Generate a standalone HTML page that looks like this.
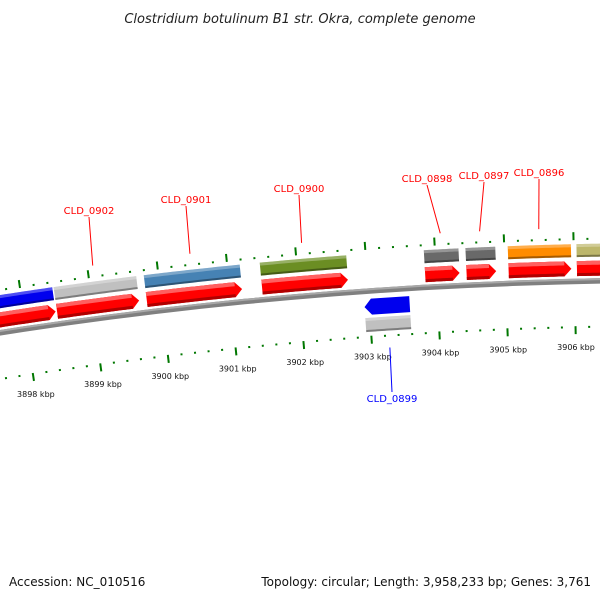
<!DOCTYPE html>
<html><head><meta charset="utf-8">
<style>
html,body{margin:0;padding:0;background:#fff;}
svg{display:block;}
text{font-family:"DejaVu Sans","Liberation Sans",sans-serif;}
</style></head>
<body>
<svg id="chart" width="600" height="600" viewBox="0 0 600 600">
<rect width="600" height="600" fill="#fff"/>
<text x="300" y="23" text-anchor="middle" font-size="13" font-style="italic" fill="#222">Clostridium botulinum B1 str. Okra, complete genome</text>
<g id="ticks"></g>
<g id="backbone"></g>
<g id="genes"></g>
<g id="labels"></g>
<text x="9" y="586" font-size="12" fill="#111">Accession: NC_010516</text>
<text x="591" y="586" text-anchor="end" font-size="12" fill="#111">Topology: circular; Length: 3,958,233 bp; Genes: 3,761</text>
</svg>
<script>
// data
const geneNames = ["CLD_0903","CLD_0902","CLD_0901","CLD_0900","CLD_0899","CLD_0898","CLD_0897","CLD_0896","CLD_0895"];
const geneStarts = [3897.4,3898.48,3899.79,3901.47,3902.93,3903.84,3904.44,3905.05,3906.04];
const geneEnds = [3898.46,3899.68,3901.18,3902.72,3903.59,3904.34,3904.87,3905.96,3906.9];
const geneStrands = [1,1,1,1,-1,1,1,1,1];
const geneColors = ["#0000ee","#c0c0c0","#4682b4","#6b8e23","#c0c0c0","#696969","#696969","#ff8c00","#bdb76b"];
const tickStart = 3896.6;
const tickEnd = 3907.6;
const tickLabels = [3898,3899,3900,3901,3902,3903,3904,3905,3906];
const labelNames = ["CLD_0902","CLD_0901","CLD_0900","CLD_0898","CLD_0897","CLD_0896","CLD_0899"];
const labelX = [89,186,299,427,484,539,392];
const labelY = [211,200,189,179,176,173,399];

// geometry
const CX=676, CY=4658, R=4378, A=0.015726, T0=-0.1490;
function ang(kb){return T0+(kb-3898)*A;}
function pt(kb,r){const t=ang(kb);return [CX+r*Math.sin(t), CY-r*Math.cos(t)];}
function arcPts(k1,k2,r){const n=20,p=[];for(let i=0;i<=n;i++){p.push(pt(k1+(k2-k1)*i/n,r));}return p;}
function poly(pts){return pts.map(p=>p[0].toFixed(2)+","+p[1].toFixed(2)).join(" ");}
const NS="http://www.w3.org/2000/svg";
function mk(tag,attrs,parent){const e=document.createElementNS(NS,tag);for(const k in attrs)e.setAttribute(k,attrs[k]);parent.appendChild(e);return e;}
function band(k1,k2,r1,r2){return arcPts(k1,k2,r2).concat(arcPts(k1,k2,r1).reverse());}
const pxkb=1/69;

// backbone
const bb=document.getElementById('backbone');
let e=mk('polygon',{points:poly(band(3896,3909,R-3,R+2.5)),fill:'#808080'},bb);


e=mk('polygon',{points:poly(band(3896,3909,R+0.5,R+2.5)),fill:'#a8a8a8'},bb);



// ticks
const tg=document.getElementById('ticks');
for(let i=0;Math.round(tickStart*5)+i<=Math.round(tickEnd*5);i++){
  const kb=(Math.round(tickStart*5)+i)/5;
  const major=(Math.round(kb*5)%5===0);
  const len=major?8:2;
  // upper row: extends outward from R+41
  let a=pt(kb,R+41),b=pt(kb,R+41+len);
  let t=mk('line',{x1:a[0],y1:a[1],x2:b[0],y2:b[1],stroke:'#007700','stroke-width':2},tg);
  
  
  // lower row: extends downward from R-45
  a=pt(kb,R-45);b=pt(kb,R-45-len);
  t=mk('line',{x1:a[0],y1:a[1],x2:b[0],y2:b[1],stroke:'#007700','stroke-width':2},tg);
  
  
}
tickLabels.forEach(kb=>{
  const p=pt(kb,R-66);
  const t=mk('text',{x:p[0],y:p[1]+3,'text-anchor':'middle','font-size':8,fill:'#111'},tg);
  t.textContent=kb+' kbp';
  
  
});

// genes
const gg=document.getElementById('genes');
geneNames.forEach((nm,i)=>{
  const s=geneStarts[i],en=geneEnds[i],st=geneStrands[i];
  const g=mk('g',{},gg);
  
  
  const head=7*pxkb;
  let r1,r2,cr1,cr2;
  if(st>0){r1=R+5;r2=R+20;cr1=R+24;cr2=R+37;}else{r1=R-24;r2=R-8;cr1=R-41;cr2=R-27;}
  let pts;
  if(st>0){
    const k=Math.max(s,en-head);
    pts=arcPts(s,k,r2).concat([pt(en,(r1+r2)/2)]).concat(arcPts(s,k,r1).reverse());
  }else{
    const k=Math.min(en,s+head);
    pts=arcPts(k,en,r2).concat(arcPts(k,en,r1).reverse()).concat([pt(s,(r1+r2)/2)]);
  }
  const arrowCol=st>0?'#ff0000':'#0000ee';
  let a=mk('polygon',{points:poly(pts),fill:arrowCol},g);
  
  
  if(st>0){
    const k=Math.max(s,en-head);
    a=mk('polygon',{points:poly(band(s,k,r1,r1+3)),fill:'#b00000'},g);
    
    
    a=mk('polygon',{points:poly(band(s,k,r2-4,r2)),fill:'#ff6060'},g);
    
    
  }
  const c=mk('polygon',{points:poly(band(s,en,cr1,cr2)),fill:geneColors[i]},g);
  
  
  const sh=mk('polygon',{points:poly(band(s,en,cr1,cr1+2)),fill:'rgba(0,0,0,0.35)'},g);
  
  
  const hl=mk('polygon',{points:poly(band(s,en,cr2-3,cr2)),fill:'rgba(255,255,255,0.3)'},g);
  
  
});

// labels
const lg=document.getElementById('labels');
labelNames.forEach((nm,j)=>{
  const i=geneNames.indexOf(nm);
  const mid=(geneStarts[i]+geneEnds[i])/2;
  const st=geneStrands[i];
  const col=st>0?'#ff0000':'#0000ff';
  const end=st>0?pt(mid,R+53):pt(mid,R-58);
  const y0=st>0?labelY[j]+6:labelY[j]-7;
  const l=mk('line',{x1:labelX[j],y1:y0,x2:end[0],y2:end[1],stroke:col,'stroke-width':1},lg);
  
  
  const t=mk('text',{x:labelX[j],y:labelY[j]+3,'text-anchor':'middle','font-size':10,fill:col},lg);
  t.textContent=nm;
  
  
});
</script>
</body></html>
